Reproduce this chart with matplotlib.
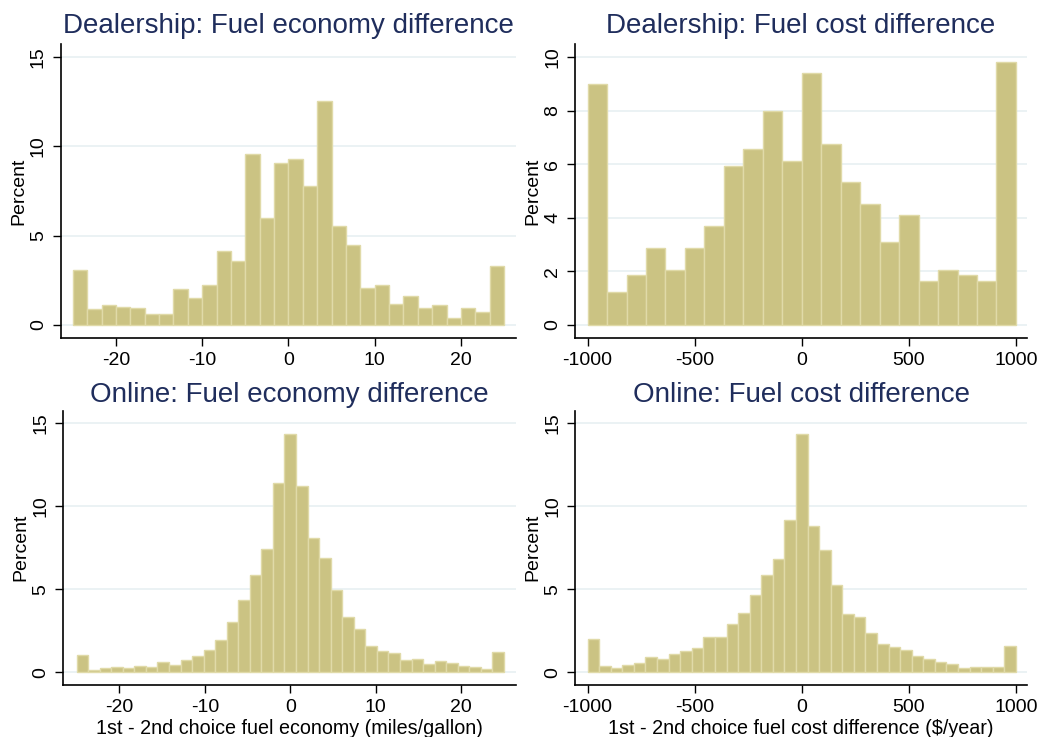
import matplotlib
matplotlib.use('Agg')
import matplotlib.pyplot as plt
import numpy as np

plt.rcParams['font.family'] = ['Liberation Sans', 'DejaVu Sans']
plt.rcParams['axes.unicode_minus'] = False

# Percent of choices in each bin
dealer_economy = [3.07, 0.87, 1.10, 1.00, 0.93, 0.61, 0.61, 1.99, 1.54, 2.25,
                  4.14, 3.60, 9.57, 6.00, 9.05, 9.31, 7.79, 12.53, 5.56, 4.48,
                  2.08, 2.25, 1.19, 1.64, 0.93, 1.10, 0.39, 0.93, 0.74, 3.33]
dealer_cost = [8.98, 1.24, 1.86, 2.87, 2.07, 2.87, 3.69, 5.94, 6.56, 7.98, 6.13,
               9.39, 6.74, 5.32, 4.51, 3.09, 4.10, 1.66, 2.07, 1.86, 1.66, 9.80]
online_economy = [1.04, 0.14, 0.26, 0.34, 0.26, 0.38, 0.30, 0.60, 0.46, 0.74,
                  0.96, 1.34, 1.96, 3.05, 4.33, 5.85, 7.45, 11.42, 14.37, 11.24,
                  8.08, 6.87, 4.93, 3.31, 2.59, 1.56, 1.30, 1.18, 0.74, 0.82,
                  0.50, 0.66, 0.54, 0.38, 0.34, 0.20, 1.22]
online_cost = [1.98, 0.40, 0.28, 0.44, 0.56, 0.90, 0.80, 1.10, 1.28, 1.44,
               2.10, 2.10, 2.92, 3.56, 4.68, 5.88, 6.82, 9.17, 14.37, 8.80,
               7.37, 5.27, 3.53, 3.35, 2.36, 1.72, 1.50, 1.34, 1.00, 0.78,
               0.62, 0.50, 0.28, 0.34, 0.34, 0.32, 1.58]

economy_range = (-25, 25)
cost_range = (-1000, 1000)
economy_ticks = [-20, -10, 0, 10, 20]
cost_ticks = [-1000, -500, 0, 500, 1000]

titles = ['Dealership: Fuel economy difference', 'Dealership: Fuel cost difference',
          'Online: Fuel economy difference', 'Online: Fuel cost difference']
xlabels = ['', '', '1st - 2nd choice fuel economy (miles/gallon)',
           '1st - 2nd choice fuel cost difference ($/year)']

bar_color = '#cbc383'
edge_color = '#e0daa8'
grid_color = '#e8f0f2'
title_color = '#1f2d5c'

fig = plt.figure(figsize=(10.39, 7.37), dpi=100)

panels = [
    # rect, data, range, xticks, xlim, ylim, yticks, title y
    ([0.0584, 0.5418, 0.4382, 0.3982], dealer_economy, economy_range, economy_ticks,
     (-26.41, 26.38), (-0.708, 15.708), [0, 5, 10, 15], 0.955),
    ([0.5534, 0.5418, 0.4351, 0.3982], dealer_cost, cost_range, cost_ticks,
     (-1059, 1052), (-0.472, 10.472), [0, 2, 4, 6, 8, 10], 0.955),
    ([0.0609, 0.0706, 0.4357, 0.3722], online_economy, economy_range, economy_ticks,
     (-26.55, 26.4), (-0.765, 15.76), [0, 5, 10, 15], 0.455),
    ([0.5534, 0.0706, 0.4351, 0.3722], online_cost, cost_range, cost_ticks,
     (-1059, 1052), (-0.765, 15.76), [0, 5, 10, 15], 0.455),
]

for i, (rect, data, rng, xticks, xlim, ylim, yticks, ty) in enumerate(panels):
    ax = fig.add_axes(rect)
    edges = np.linspace(rng[0], rng[1], len(data) + 1)
    ax.bar(edges[:-1], data, width=np.diff(edges), align='edge',
           color=bar_color, edgecolor=edge_color, linewidth=1.0, zorder=2)

    ax.set_xlim(xlim)
    ax.set_ylim(ylim)
    ax.set_xticks(xticks)
    ax.set_yticks(yticks)
    ax.tick_params(axis='both', direction='out', length=6, width=1, labelsize=14, pad=4)
    for lab in ax.get_yticklabels():
        lab.set_rotation(90)
        lab.set_va('center')

    # light horizontal grid like Stata
    for y in yticks:
        ax.axhline(y, color=grid_color, linewidth=1.2, zorder=1)

    for side in ['top', 'right']:
        ax.spines[side].set_visible(False)
    ax.spines['left'].set_linewidth(1.2)
    ax.spines['bottom'].set_linewidth(1.2)

    ax.set_ylabel('Percent', fontsize=14, labelpad=2)
    if xlabels[i]:
        ax.set_xlabel(xlabels[i], fontsize=14.2, labelpad=2)

    # title centred over the plot area
    tx = rect[0] + rect[2] / 2
    fig.text(tx, ty, titles[i], fontsize=20, color=title_color, ha='center', va='baseline')

plt.savefig('out.png', dpi=100)
